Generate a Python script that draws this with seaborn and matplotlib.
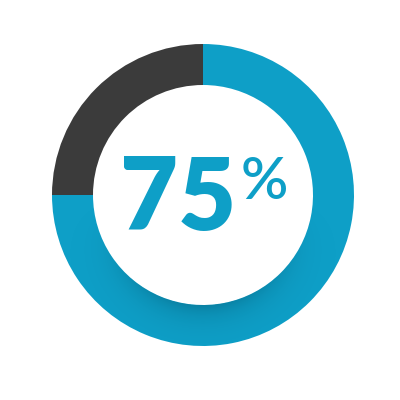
import matplotlib
matplotlib.use("Agg")
import matplotlib.pyplot as plt
import numpy as np
import seaborn as sns

labels = ["Complete", "Remaining"]
values = [75, 25]
colors = ["#0e9fc7", "#3b3b3b"]
center_label = "75"
pct_sign = "%"

sns.set_theme(style="white")
plt.rcParams['font.family'] = ['Lato', 'DejaVu Sans']

fig = plt.figure(figsize=(4, 4), dpi=100)
ax = fig.add_axes([0, 0, 1, 1])

cx, cy, r_out, ring_w = 203, 205, 151, 41
wedges, _ = ax.pie(values, colors=colors, startangle=90, counterclock=False,
                   center=(cx, cy), radius=r_out, frame=True,
                   wedgeprops=dict(width=ring_w, edgecolor='none', antialiased=True))

# soft inner shadow on lower part of the ring (decoration)
r_in = r_out - ring_w
n = 400
xs = np.linspace(cx - r_out, cx + r_out, n)
ys = np.linspace(cy - r_out, cy + r_out, n)
X, Y = np.meshgrid(xs, ys)
R = np.hypot(X - cx, Y - cy)
S = np.clip(-(Y - cy) / np.maximum(R, 1e-6), 0, 1)
A = 0.30 * np.exp(-np.clip(R - r_in, 0, None) / 14.0) * S ** 2
A[(R < r_in) | (R > r_out)] = 0
img = np.zeros((n, n, 4))
img[..., 0] = 0.0
img[..., 1] = 0.22
img[..., 2] = 0.30
img[..., 3] = A
im = ax.imshow(img, extent=(cx - r_out, cx + r_out, cy - r_out, cy + r_out),
               origin='lower', interpolation='bilinear', zorder=3)
im.set_clip_path(wedges[0])

ax.set_xlim(0, 400)
ax.set_ylim(0, 400)
ax.set_aspect('equal')
ax.axis('off')

ax.text(120, 170, center_label, fontsize=72, fontweight='heavy',
        color=colors[0], ha='left', va='baseline', zorder=4)
ax.text(241, 201, pct_sign, fontsize=42, fontweight='semibold',
        color=colors[0], ha='left', va='baseline', zorder=4)

fig.savefig("out.png", dpi=100, facecolor='white')
